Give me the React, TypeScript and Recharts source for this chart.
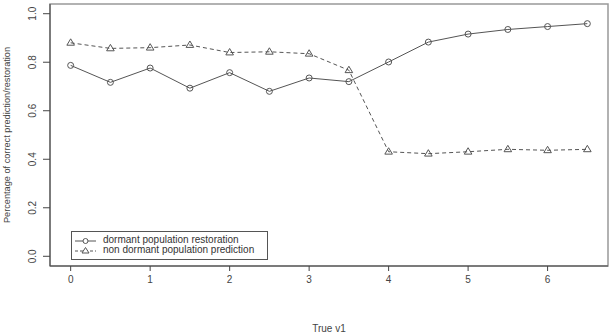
import {
  Legend,
  Line,
  LineChart,
  ReferenceArea,
  XAxis,
  YAxis,
} from "recharts";

const trueV1 = [0, 0.5, 1, 1.5, 2, 2.5, 3, 3.5, 4, 4.5, 5, 5.5, 6, 6.5];
const dormantRestoration = [
  0.787, 0.717, 0.776, 0.693, 0.757, 0.68, 0.735, 0.72, 0.801, 0.883, 0.916, 0.935, 0.947, 0.959,
];
const nonDormantPrediction = [
  0.88, 0.857, 0.86, 0.871, 0.84, 0.843, 0.835, 0.767, 0.431, 0.423, 0.431, 0.441, 0.437, 0.441,
];
const xTicks = [0, 1, 2, 3, 4, 5, 6];
const yTicks = [0, 0.2, 0.4, 0.6, 0.8, 1.0];
const seriesNames = ["dormant population restoration", "non dormant population prediction"];

const rows = trueV1.map((x, i) => ({
  x,
  dormant: dormantRestoration[i],
  nonDormant: nonDormantPrediction[i],
}));

const font = "'Liberation Sans', Arial, sans-serif";
const ink = "#555";

function CircleDot(props: any) {
  const { cx, cy } = props;
  if (cx == null || cy == null) return null;
  return <circle cx={cx} cy={cy} r={3} fill="none" stroke={ink} strokeWidth={1} />;
}

function TriangleDot(props: any) {
  const { cx, cy } = props;
  if (cx == null || cy == null) return null;
  const r = 4;
  const d = `M${cx},${cy - r} L${cx + r * 0.95},${cy + r * 0.6} L${cx - r * 0.95},${cy + r * 0.6} Z`;
  return <path d={d} fill="none" stroke={ink} strokeWidth={1} />;
}

function YTick(props: any) {
  const { x, y, payload } = props;
  const px = x - 5;
  return (
    <text
      x={px}
      y={y}
      transform={`rotate(-90, ${px}, ${y})`}
      textAnchor="middle"
      fontFamily={font}
      fontSize={10}
      fill="#444"
    >
      {Number(payload.value).toFixed(1)}
    </text>
  );
}

function XTitle(props: any) {
  const { viewBox } = props;
  const cx = viewBox.x + viewBox.width / 2;
  return (
    <text x={cx} y={332} textAnchor="middle" fontFamily={font} fontSize={10} fill="#444">
      True v1
    </text>
  );
}

// rotated y-axis title, centred on the plot height
function YTitle(props: any) {
  const { viewBox } = props;
  const cy = viewBox.y + viewBox.height / 2;
  return (
    <text
      x={10}
      y={cy}
      transform={`rotate(-90, 10, ${cy})`}
      textAnchor="middle"
      fontFamily={font}
      fontSize={9.2}
      fill="#444"
    >
      Percentage of correct prediction/restoration
    </text>
  );
}

function LegendBox() {
  return (
    <div
      style={{
        border: "1px solid #555",
        background: "#fff",
        width: 197,
        height: 29,
        boxSizing: "border-box",
        fontFamily: font,
        fontSize: 10,
        color: "#333",
        position: "relative",
      }}
    >
      <svg width={30} height={28} style={{ position: "absolute", left: 0, top: 0 }}>
        <line x1={3} x2={24} y1={9} y2={9} stroke={ink} />
        <circle cx={13.5} cy={9} r={2.5} fill="#fff" stroke={ink} />
        <line x1={3} x2={24} y1={19} y2={19} stroke={ink} strokeDasharray="3 2" />
        <path d="M13.5,15.5 L17,21 L10,21 Z" fill="#fff" stroke={ink} />
      </svg>
      <div style={{ position: "absolute", left: 31, top: 3, lineHeight: "10px" }}>{seriesNames[0]}</div>
      <div style={{ position: "absolute", left: 31, top: 13, lineHeight: "10px" }}>{seriesNames[1]}</div>
    </div>
  );
}

export default function App() {
  return (
    <div style={{ width: 613, height: 335, background: "#fff" }}>
      <style>{`body{margin:0}`}</style>
      <LineChart width={613} height={335} data={rows} margin={{ top: 4, right: 5, bottom: 0, left: 0 }}>
        <ReferenceArea
          x1={-0.26}
          x2={6.76}
          y1={-0.04}
          y2={1.04}
          fill="none"
          stroke="#999"
          strokeWidth={1.5}
          ifOverflow="visible"
        />
        <XAxis
          dataKey="x"
          type="number"
          domain={[-0.26, 6.76]}
          ticks={xTicks}
          allowDataOverflow
          height={40}
          stroke="#444"
          tickSize={5}
          tick={{ fontFamily: font, fontSize: 10, fill: "#444" }}
          tickMargin={5}
          label={<XTitle />}
        />
        <YAxis
          type="number"
          domain={[-0.04, 1.04]}
          ticks={yTicks}
          allowDataOverflow
          width={50}
          stroke="#444"
          tickSize={7}
          tick={<YTick />}
          label={<YTitle />}
        />
        <Line
          dataKey="dormant"
          name={seriesNames[0]}
          stroke={ink}
          strokeWidth={1}
          dot={<CircleDot />}
          activeDot={false}
          isAnimationActive={false}
        />
        <Line
          dataKey="nonDormant"
          name={seriesNames[1]}
          stroke={ink}
          strokeWidth={1}
          strokeDasharray="4 3"
          dot={<TriangleDot />}
          activeDot={false}
          isAnimationActive={false}
        />
        <Legend
          content={<LegendBox />}
          wrapperStyle={{ position: "absolute", left: 71, top: 231, width: 197, bottom: "auto" }}
        />
      </LineChart>
    </div>
  );
}
